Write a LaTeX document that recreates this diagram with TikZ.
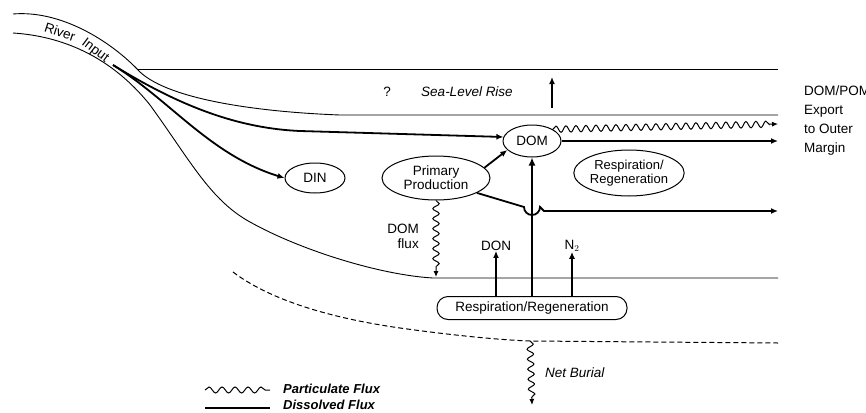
\documentclass[tikz,border=0pt]{standalone}
\usepackage{fontspec}
\setmainfont{Liberation Sans}
\usetikzlibrary{shapes.geometric,arrows.meta,decorations.pathmorphing,calc}
\begin{document}
\begin{tikzpicture}[x=1pt,y=-1pt,
  thinline/.style={line width=0.9pt},
  flux/.style={line width=1.8pt,-{Latex[length=7pt,width=6pt]}},
  bigflux/.style={line width=2.6pt,-{Latex[length=8pt,width=7pt]}},
  lbl/.style={font=\fontsize{13.5}{16}\selectfont, inner sep=0pt},
  oval/.style={ellipse, draw, line width=1pt, lbl, align=center},
  wave/.style={decorate, decoration={snake, segment length=10pt, amplitude=3.2pt, post length=6pt}, line width=1pt, -{Latex[length=6pt,width=5pt]}},
]
\useasboundingbox (0,0) rectangle (866,412);

% channel / water column boundaries
\draw[thinline] (13,14) .. controls (60,10) and (110,40) .. (140,72)
   .. controls (170,100) and (260,112) .. (340,115) -- (778,115);
\draw[thinline] (137,69) -- (778,69);
\draw[thinline] (13,33) .. controls (60,36) and (110,55) .. (150,105)
   .. controls (190,160) and (210,200) .. (250,222)
   .. controls (300,250) and (380,275) .. (433,278) -- (778,278);
\draw[line width=1pt, dash pattern=on 5pt off 3pt] (233,272) .. controls (270,300) and (330,318) .. (400,328)
   .. controls (450,335) and (500,340) .. (530,341) coordinate (nb) -- (778,343);

\node[lbl, rotate=-18] (river) at (60,32) {River};
\node[lbl, rotate=-37] (input) at (95,51) {Input};

% nodes
\node[oval, minimum width=58pt, minimum height=32pt] (DOM) at (532,141) {DOM};
\node[oval, minimum width=60pt, minimum height=30pt] (DIN) at (315,178) {DIN};
\node[oval, minimum width=108pt, minimum height=44pt] (PP) at (436,178) {Primary\\[-2pt]Production};
\node[oval, minimum width=108pt, minimum height=46pt, font=\fontsize{13}{15}\selectfont] (RR2) at (629,173) {Respiration/\\[-1pt]Regeneration};
\node[draw, line width=1pt, rounded corners=11pt, minimum width=190pt, minimum height=23pt, lbl] (RR) at (532,308) {Respiration/Regeneration};

\node[lbl] (q) at (387,92) {?};
\node[lbl, font=\fontsize{13.5}{16}\selectfont\itshape] (slr) at (467,92) {Sea-Level Rise};
\node[lbl, anchor=base west, align=left, font=\fontsize{13.5}{18.7}\selectfont] (exp) at (804,152) {DOM/POM\\Export\\to Outer\\Margin};
\node[lbl, align=right] (domflux) at (403,236) {DOM\\[-1pt]flux};
\node[lbl] (DON) at (496,246) {DON};
\node[lbl] (N2) at (572,246) {N$_2$};
\node[lbl, anchor=west, font=\fontsize{13.5}{16}\selectfont\itshape] (burial) at (545,373) {Net Burial};

% free ends
\coordinate (ri) at (113,65);
\coordinate (e1) at (778,124);
\coordinate (e2) at (778,141);
\coordinate (e3) at (778,211);
\coordinate (s1) at (552,108);
\coordinate (s2) at (552,77);
\coordinate (dfend) at (436,277);
\coordinate (nbend) at (532,405);

% river input fluxes
\draw[flux] (ri) .. controls (170,100) and (230,128) .. (300,131) -- (DOM.172);
\draw[flux] (ri) .. controls (170,100) and (210,155) .. (DIN.west);

% sea level rise
\draw[flux] (s1) -- (s2);

% export fluxes
\draw[wave] (DOM.north east) -- (e1);
\draw[flux] (DOM.east) -- (e2);
\draw[flux] (PP.12) -- (DOM.-160);
\draw[flux] (PP.-20) -- (524,207) arc[start angle=180, end angle=0, radius=8] -- (544,211) -- (e3);

% benthic fluxes
\draw[bigflux] (RR.north) -- (DOM.south);
\draw[flux, line width=1.2pt] (RR.north -| DON) -- (DON.south);
\draw[flux, line width=1.2pt] (RR.north -| N2) -- (N2.south);
\draw[wave] (PP.south) -- (dfend);
\draw[wave] (nb) -- (nbend);

% legend
\coordinate (lw1) at (205,390);
\coordinate (lw2) at (270,390);
\coordinate (ld1) at (205,408);
\coordinate (ld2) at (270,408);
\draw[decorate, decoration={snake, segment length=13pt, amplitude=3pt}, line width=1pt] (lw1) -- (lw2);
\draw[line width=1.8pt] (ld1) -- (ld2);
\node[lbl, anchor=west, font=\fontsize{13}{15}\selectfont\bfseries\itshape] (lp) at (283,389) {Particulate Flux};
\node[lbl, anchor=west, font=\fontsize{13}{15}\selectfont\bfseries\itshape] (ldl) at (283,405) {Dissolved Flux};
\end{tikzpicture}
\end{document}
